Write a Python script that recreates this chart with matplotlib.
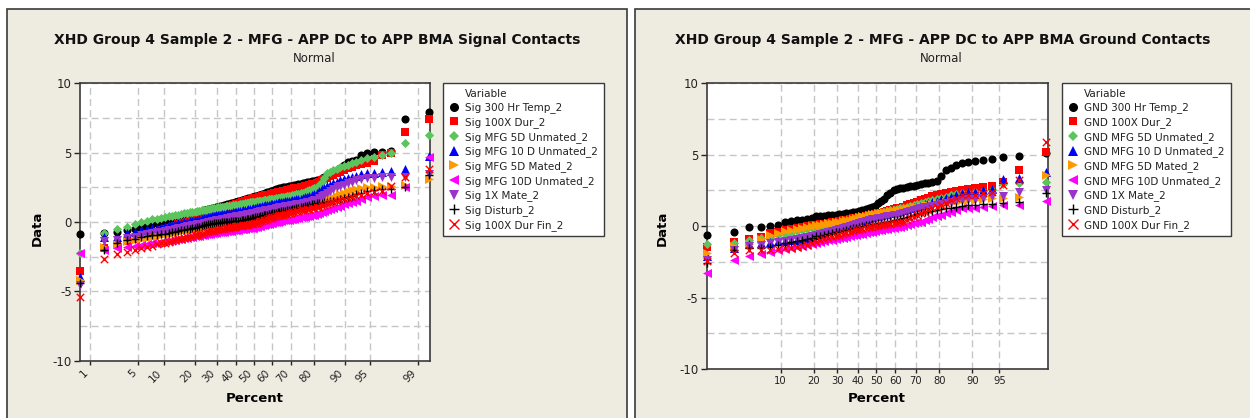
import numpy as np
import matplotlib
matplotlib.use("Agg")
import matplotlib.pyplot as plt
from matplotlib.lines import Line2D
from matplotlib.patches import Rectangle
from statistics import NormalDist

plt.rcParams['font.family'] = ['DejaVu Sans']
plt.rcParams['axes.unicode_minus'] = False

# ---- data, sorted values ----
sig_title = "XHD Group 4 Sample 2 - MFG - APP DC to APP BMA Signal Contacts"
gnd_title = "XHD Group 4 Sample 2 - MFG - APP DC to APP BMA Ground Contacts"

sig_labels = ["Sig 300 Hr Temp_2", "Sig 100X Dur_2", "Sig MFG 5D Unmated_2",
              "Sig MFG 10 D Unmated_2", "Sig MFG 5D Mated_2", "Sig MFG 10D Unmated_2",
              "Sig 1X Mate_2", "Sig Disturb_2", "Sig 100X Dur Fin_2"]
gnd_labels = ["GND 300 Hr Temp_2", "GND 100X Dur_2", "GND MFG 5D Unmated_2",
              "GND MFG 10 D Unmated_2", "GND MFG 5D Mated_2", "GND MFG 10D Unmated_2",
              "GND 1X Mate_2", "GND Disturb_2", "GND 100X Dur Fin_2"]

sig_ticks = [1, 5, 10, 20, 30, 40, 50, 60, 70, 80, 90, 95, 99]
gnd_ticks = [10, 20, 30, 40, 50, 60, 70, 80, 90, 95]

# signal contacts (104 readings each)
sig_300hr = [-0.9, -0.77, -0.7, -0.6, -0.5, -0.4,
             -0.28, -0.15, -0.07, 0.0,
             0.07, 0.13, 0.2,
             0.27, 0.33, 0.4,
             0.45, 0.5, 0.55, 0.6,
             0.65, 0.7, 0.75, 0.8, 0.85, 0.9,
             0.93, 0.97, 1.0, 1.03, 1.07, 1.1,
             1.14, 1.18, 1.22, 1.25, 1.29, 1.33, 1.37, 1.4,
             1.43, 1.47, 1.5, 1.54, 1.57, 1.61, 1.64, 1.67, 1.7, 1.74, 1.77, 1.8,
             1.84, 1.88, 1.93, 1.97, 2.01, 2.05, 2.1, 2.14, 2.18, 2.22, 2.27, 2.31, 2.35,
             2.38, 2.42, 2.45, 2.49, 2.52, 2.55, 2.58, 2.6,
             2.63, 2.67, 2.7, 2.73, 2.77, 2.8,
             2.83, 2.87, 2.9, 2.93, 2.97, 3.0,
             3.05, 3.15, 3.25, 3.3,
             3.4, 3.55, 3.7,
             3.9, 4.1, 4.3,
             4.4, 4.5, 4.8, 5.0, 5.05, 5.07, 5.1, 7.4, 7.9]
sig_100x = [-3.5, -1.9, -1.6, -1.35, -1.2, -1.05,
            -0.92, -0.8, -0.7, -0.6,
            -0.52, -0.43, -0.35,
            -0.27, -0.18, -0.1,
            -0.04, 0.03, 0.09, 0.15,
            0.21, 0.27, 0.33, 0.38, 0.44, 0.5,
            0.56, 0.62, 0.68, 0.73, 0.79, 0.85,
            0.89, 0.94, 0.98, 1.02, 1.07, 1.11, 1.16, 1.2,
            1.24, 1.28, 1.33, 1.37, 1.41, 1.45, 1.49, 1.53, 1.58, 1.62, 1.66, 1.7,
            1.73, 1.76, 1.79, 1.82, 1.85, 1.88, 1.92, 1.95, 1.98, 2.01, 2.04, 2.07, 2.1,
            2.13, 2.16, 2.19, 2.22, 2.25, 2.28, 2.32, 2.35,
            2.38, 2.42, 2.45, 2.48, 2.52, 2.55,
            2.59, 2.63, 2.67, 2.72, 2.76, 2.8,
            2.9, 3.0, 3.1, 3.2,
            3.3, 3.4, 3.5,
            3.63, 3.77, 3.9,
            4.0, 4.1, 4.18, 4.25, 4.4, 4.8, 5.0, 6.47, 7.4]
sig_5d_unmated = [-2.2, -0.8, -0.53, -0.34, -0.14, -0.02,
                  0.1, 0.2, 0.25, 0.3,
                  0.35, 0.4, 0.45,
                  0.49, 0.54, 0.58,
                  0.62, 0.65, 0.69, 0.72,
                  0.75, 0.78, 0.81, 0.84, 0.87, 0.9,
                  0.93, 0.95, 0.98, 1.0, 1.03, 1.05,
                  1.07, 1.09, 1.11, 1.13, 1.15, 1.17, 1.18, 1.2,
                  1.22, 1.24, 1.26, 1.28, 1.3, 1.32, 1.34, 1.36, 1.39, 1.41, 1.43, 1.45,
                  1.47, 1.49, 1.51, 1.53, 1.55, 1.57, 1.59, 1.61, 1.63, 1.65, 1.67, 1.68, 1.7,
                  1.73, 1.75, 1.78, 1.8, 1.83, 1.85, 1.88, 1.9,
                  1.93, 1.97, 2.0, 2.03, 2.07, 2.1,
                  2.17, 2.23, 2.3, 2.37, 2.43, 2.5,
                  2.65, 2.85, 3.2, 3.5,
                  3.62, 3.74, 3.85,
                  3.93, 4.02, 4.1,
                  4.22, 4.35, 4.48, 4.6, 4.7, 4.83, 4.95, 5.7, 6.3]
sig_10d_unmated = [-4.0, -1.08, -1.05, -0.8, -0.7, -0.6,
                   -0.52, -0.45, -0.4, -0.35,
                   -0.3, -0.25, -0.2,
                   -0.15, -0.1, -0.05,
                   -0.01, 0.03, 0.06, 0.1,
                   0.13, 0.17, 0.2, 0.23, 0.27, 0.3,
                   0.33, 0.37, 0.4, 0.43, 0.47, 0.5,
                   0.53, 0.55, 0.58, 0.6, 0.63, 0.65, 0.68, 0.7,
                   0.72, 0.75, 0.77, 0.8, 0.82, 0.85, 0.87, 0.9, 0.92, 0.95, 0.97, 1.0,
                   1.03, 1.06, 1.08, 1.11, 1.14, 1.16, 1.19, 1.22, 1.25, 1.27, 1.3, 1.33, 1.35,
                   1.38, 1.41, 1.43, 1.46, 1.49, 1.51, 1.53, 1.55,
                   1.58, 1.6, 1.63, 1.65, 1.68, 1.7,
                   1.77, 1.83, 1.9, 1.97, 2.03, 2.1,
                   2.22, 2.35, 2.47, 2.6,
                   2.7, 2.8, 2.9,
                   3.0, 3.1, 3.2,
                   3.28, 3.35, 3.43, 3.5, 3.55, 3.6, 3.7, 3.8, 4.75]
sig_5d_mated = [-4.2, -1.78, -1.6, -1.4, -1.3, -1.2,
                -1.12, -1.05, -1.0, -0.95,
                -0.9, -0.85, -0.8,
                -0.75, -0.7, -0.65,
                -0.61, -0.57, -0.54, -0.5,
                -0.47, -0.43, -0.4, -0.37, -0.33, -0.3,
                -0.27, -0.23, -0.2, -0.17, -0.13, -0.1,
                -0.08, -0.06, -0.04, -0.02, 0.0, 0.02, 0.04, 0.05,
                0.07, 0.09, 0.11, 0.13, 0.15, 0.17, 0.2, 0.22, 0.24, 0.26, 0.28, 0.3,
                0.33, 0.36, 0.39, 0.41, 0.44, 0.47, 0.49, 0.52, 0.55, 0.57, 0.6, 0.62, 0.65,
                0.69, 0.72, 0.76, 0.79, 0.83, 0.86, 0.88, 0.9,
                0.93, 0.97, 1.0, 1.03, 1.07, 1.1,
                1.14, 1.18, 1.22, 1.27, 1.31, 1.35,
                1.41, 1.48, 1.54, 1.6,
                1.7, 1.8, 1.9,
                2.0, 2.1, 2.2,
                2.28, 2.35, 2.43, 2.5, 2.55, 2.6, 2.62, 2.65, 3.1]
sig_10d_unmated_b = [-2.2, -2.0, -1.85, -1.78, -1.7, -1.65,
                     -1.6, -1.55, -1.5, -1.45,
                     -1.4, -1.35, -1.3,
                     -1.27, -1.23, -1.2,
                     -1.16, -1.12, -1.09, -1.05,
                     -1.02, -1.0, -0.98, -0.95, -0.93, -0.9,
                     -0.87, -0.85, -0.82, -0.8, -0.78, -0.75,
                     -0.73, -0.71, -0.69, -0.67, -0.65, -0.63, -0.62, -0.6,
                     -0.58, -0.56, -0.55, -0.53, -0.51, -0.49, -0.47, -0.45, -0.44, -0.42, -0.41, -0.4,
                     -0.37, -0.34, -0.31, -0.27, -0.24, -0.21, -0.18, -0.15, -0.12, -0.09, -0.06, -0.03, 0.0,
                     0.03, 0.06, 0.09, 0.11, 0.14, 0.16, 0.18, 0.2,
                     0.23, 0.25, 0.28, 0.3, 0.33, 0.35,
                     0.38, 0.42, 0.45, 0.48, 0.52, 0.55,
                     0.64, 0.72, 0.81, 0.9,
                     0.97, 1.03, 1.1,
                     1.18, 1.27, 1.35,
                     1.45, 1.55, 1.68, 1.8, 1.85, 1.95, 1.97, 2.5, 4.67]
sig_1x_mate = [-4.55, -1.4, -1.3, -1.15, -1.05, -0.95,
               -0.87, -0.8, -0.75, -0.7,
               -0.65, -0.6, -0.55,
               -0.5, -0.45, -0.4,
               -0.36, -0.32, -0.29, -0.25,
               -0.22, -0.18, -0.15, -0.12, -0.08, -0.05,
               -0.02, 0.02, 0.05, 0.08, 0.12, 0.15,
               0.18, 0.2, 0.23, 0.25, 0.28, 0.3, 0.33, 0.35,
               0.38, 0.4, 0.43, 0.45, 0.48, 0.5, 0.53, 0.55, 0.58, 0.6, 0.63, 0.65,
               0.68, 0.7, 0.73, 0.76, 0.79, 0.81, 0.84, 0.87, 0.89, 0.92, 0.95, 0.97, 1.0,
               1.03, 1.06, 1.08, 1.11, 1.14, 1.16, 1.18, 1.2,
               1.22, 1.25, 1.28, 1.3, 1.33, 1.35,
               1.39, 1.43, 1.47, 1.52, 1.56, 1.6,
               1.72, 1.85, 1.97, 2.1,
               2.23, 2.37, 2.5,
               2.6, 2.7, 2.8,
               2.9, 3.0, 3.08, 3.15, 3.2, 3.22, 3.25, 3.27, 3.46]
sig_disturb = [-4.4, -2.0, -1.5, -1.3, -1.2, -1.1,
               -1.02, -0.95, -0.92, -0.9,
               -0.85, -0.8, -0.75,
               -0.7, -0.65, -0.6,
               -0.56, -0.53, -0.49, -0.45,
               -0.41, -0.37, -0.33, -0.29, -0.25, -0.2,
               -0.15, -0.13, -0.11, -0.09, -0.07, -0.05,
               -0.04, -0.03, -0.01, 0.0, 0.01, 0.02, 0.04, 0.05,
               0.06, 0.08, 0.09, 0.1, 0.12, 0.14, 0.16, 0.19, 0.22, 0.25, 0.28, 0.3,
               0.33, 0.36, 0.39, 0.42, 0.45, 0.48, 0.5, 0.53, 0.56, 0.59, 0.62, 0.64, 0.67,
               0.7, 0.73, 0.76, 0.78, 0.81, 0.84, 0.86, 0.88,
               0.92, 0.96, 1.0, 1.03, 1.07, 1.1,
               1.14, 1.18, 1.22, 1.27, 1.31, 1.35,
               1.38, 1.4, 1.43, 1.45,
               1.5, 1.55, 1.6,
               1.67, 1.73, 1.8,
               1.9, 2.0, 2.1, 2.2, 2.3, 2.35, 2.4, 2.5, 3.4]
sig_100x_fin = [-5.4, -2.67, -2.3, -2.14, -2.0, -1.85,
                -1.78, -1.7, -1.62, -1.55,
                -1.48, -1.42, -1.35,
                -1.3, -1.25, -1.2,
                -1.15, -1.1, -1.05, -1.0,
                -0.96, -0.92, -0.88, -0.83, -0.79, -0.75,
                -0.72, -0.68, -0.65, -0.62, -0.58, -0.55,
                -0.52, -0.5, -0.47, -0.45, -0.42, -0.4, -0.37, -0.35,
                -0.33, -0.31, -0.3, -0.28, -0.26, -0.24, -0.22, -0.21, -0.19, -0.17, -0.16, -0.15,
                -0.1, -0.06, -0.01, 0.04, 0.08, 0.13, 0.17, 0.22, 0.26, 0.31, 0.35, 0.38, 0.4,
                0.43, 0.47, 0.5, 0.54, 0.57, 0.6, 0.63, 0.65,
                0.69, 0.73, 0.77, 0.8, 0.83, 0.85,
                0.88, 0.92, 0.95, 0.98, 1.02, 1.05,
                1.11, 1.17, 1.24, 1.3,
                1.37, 1.43, 1.5,
                1.57, 1.63, 1.7,
                1.78, 1.85, 1.98, 2.1, 2.15, 2.2, 2.6, 3.27, 3.8]

# ground contacts (60 readings each)
gnd_300hr = [-0.62, -0.38, -0.08, -0.03, 0.04, 0.08, 0.3, 0.35, 0.4, 0.45,
             0.5, 0.6, 0.68, 0.7, 0.72, 0.75, 0.78, 0.8, 0.82, 0.86,
             0.9, 0.93, 0.97, 1.0, 1.05, 1.1, 1.2, 1.28, 1.35, 1.42,
             1.6, 1.75, 1.9, 2.2, 2.35, 2.5, 2.6, 2.65, 2.7, 2.75,
             2.78, 2.82, 2.88, 2.95, 3.0, 3.03, 3.07, 3.15, 3.5, 3.9,
             4.1, 4.3, 4.45, 4.5, 4.55, 4.65, 4.72, 4.82, 4.9, 5.15]
gnd_100x = [-1.45, -1.08, -0.92, -0.76, -0.48, -0.4, -0.3, -0.2, -0.1, -0.03,
            0.02, 0.06, 0.1, 0.14, 0.18, 0.22, 0.26, 0.3, 0.35, 0.4,
            0.45, 0.49, 0.54, 0.58, 0.63, 0.67, 0.71, 0.76, 0.8, 0.85,
            0.9, 0.95, 1.0, 1.06, 1.12, 1.18, 1.24, 1.3, 1.37, 1.45,
            1.52, 1.6, 1.7, 1.8, 1.9, 2.0, 2.1, 2.17, 2.23, 2.3,
            2.38, 2.47, 2.55, 2.62, 2.7, 2.75, 2.8, 3.1, 3.94, 5.17]
gnd_5d_unmated = [-1.25, -1.15, -1.0, -0.83, -0.74, -0.65, -0.55, -0.45, -0.37, -0.3,
                  -0.22, -0.15, -0.08, -0.02, 0.04, 0.1, 0.15, 0.2, 0.25, 0.3,
                  0.35, 0.4, 0.45, 0.5, 0.55, 0.6, 0.66, 0.72, 0.78, 0.84,
                  0.9, 0.95, 1.0, 1.05, 1.1, 1.15, 1.2, 1.25, 1.3, 1.36,
                  1.42, 1.48, 1.54, 1.6, 1.68, 1.76, 1.84, 1.92, 2.0, 2.07,
                  2.15, 2.22, 2.3, 2.35, 2.4, 2.45, 2.55, 2.95, 3.02, 3.07]
gnd_10d_unmated = [-2.1, -1.5, -1.25, -1.15, -1.1, -1.05, -1.02, -1.0, -0.98, -0.95,
                   -0.85, -0.75, -0.65, -0.55, -0.45, -0.35, -0.25, -0.15, -0.05, 0.05,
                   0.12, 0.19, 0.26, 0.33, 0.4, 0.46, 0.53, 0.59, 0.65, 0.7,
                   0.74, 0.79, 0.83, 0.88, 0.92, 0.97, 1.01, 1.06, 1.1, 1.17,
                   1.24, 1.31, 1.38, 1.45, 1.53, 1.62, 1.7, 1.78, 1.87, 1.95,
                   2.07, 2.18, 2.3, 2.36, 2.42, 2.5, 2.58, 3.28, 3.35, 3.8]
gnd_5d_mated = [-1.9, -1.4, -1.25, -0.9, -0.62, -0.45, -0.35, -0.25, -0.17, -0.1,
                -0.05, 0.0, 0.05, 0.1, 0.15, 0.2, 0.24, 0.27, 0.3, 0.35,
                0.41, 0.46, 0.52, 0.57, 0.63, 0.68, 0.74, 0.79, 0.85, 0.88,
                0.92, 0.95, 0.99, 1.02, 1.06, 1.09, 1.13, 1.16, 1.2, 1.24,
                1.28, 1.32, 1.36, 1.4, 1.45, 1.5, 1.55, 1.6, 1.65, 1.7,
                1.73, 1.77, 1.8, 1.83, 1.85, 1.9, 1.95, 1.97, 2.07, 3.58]
gnd_10d_unmated_b = [-3.25, -2.37, -2.09, -1.95, -1.8, -1.7, -1.62, -1.55, -1.48, -1.42,
                     -1.35, -1.28, -1.21, -1.14, -1.07, -1.0, -0.95, -0.9, -0.85, -0.8,
                     -0.75, -0.7, -0.65, -0.6, -0.56, -0.52, -0.47, -0.43, -0.38, -0.34,
                     -0.3, -0.26, -0.22, -0.19, -0.15, -0.11, -0.07, -0.03, 0.0, 0.07,
                     0.14, 0.2, 0.26, 0.32, 0.42, 0.52, 0.61, 0.71, 0.8, 0.9,
                     1.02, 1.13, 1.25, 1.28, 1.3, 1.35, 1.4, 1.45, 1.5, 1.76]
gnd_1x_mate = [-2.37, -1.65, -1.4, -1.3, -1.2, -1.12, -1.05, -0.98, -0.91, -0.85,
               -0.78, -0.71, -0.64, -0.57, -0.5, -0.43, -0.36, -0.29, -0.22, -0.15,
               -0.08, -0.01, 0.06, 0.13, 0.2, 0.27, 0.34, 0.41, 0.48, 0.52,
               0.56, 0.6, 0.64, 0.68, 0.72, 0.76, 0.8, 0.85, 0.9, 0.97,
               1.04, 1.11, 1.18, 1.25, 1.31, 1.37, 1.43, 1.49, 1.55, 1.6,
               1.68, 1.75, 1.83, 1.87, 1.9, 1.95, 2.1, 2.12, 2.42, 2.53]
gnd_disturb = [-2.6, -1.67, -1.55, -1.5, -1.48, -1.3, -1.2, -1.1, -1.05, -1.0,
               -0.9, -0.8, -0.72, -0.66, -0.6, -0.55, -0.5, -0.44, -0.38, -0.32,
               -0.26, -0.2, -0.15, -0.1, -0.05, 0.0, 0.05, 0.1, 0.15, 0.18,
               0.21, 0.25, 0.28, 0.32, 0.36, 0.4, 0.44, 0.49, 0.55, 0.62,
               0.69, 0.76, 0.83, 0.9, 0.96, 1.02, 1.08, 1.14, 1.2, 1.25,
               1.3, 1.35, 1.4, 1.45, 1.5, 1.52, 1.55, 1.6, 1.72, 2.35]
gnd_100x_fin = [-2.45, -1.9, -1.7, -1.68, -1.66, -1.6, -1.55, -1.5, -1.45, -1.4,
                -1.3, -1.2, -1.1, -1.0, -0.92, -0.84, -0.76, -0.68, -0.6, -0.54,
                -0.48, -0.42, -0.36, -0.3, -0.25, -0.2, -0.14, -0.08, -0.03, 0.0,
                0.04, 0.07, 0.11, 0.14, 0.18, 0.21, 0.25, 0.28, 0.32, 0.44,
                0.55, 0.67, 0.78, 0.9, 1.02, 1.13, 1.25, 1.37, 1.48, 1.6,
                1.8, 2.0, 2.18, 2.19, 2.2, 2.3, 2.4, 2.88, 3.23, 5.9]

sig_series = [sig_300hr, sig_100x, sig_5d_unmated, sig_10d_unmated, sig_5d_mated,
              sig_10d_unmated_b, sig_1x_mate, sig_disturb, sig_100x_fin]
gnd_series = [gnd_300hr, gnd_100x, gnd_5d_unmated, gnd_10d_unmated, gnd_5d_mated,
              gnd_10d_unmated_b, gnd_1x_mate, gnd_disturb, gnd_100x_fin]

# minitab-ish symbol set
markers = ['o', 's', 'D', '^', '>', '<', 'v', '+', 'x']
colors = ['#000000', '#ff0000', '#5cc45c', '#0000ff', '#ff9900', '#ff00ff',
          '#9933cc', '#000000', '#ff0000']
sizes = [34, 26, 22, 42, 42, 42, 42, 40, 28]
leg_sizes = [6.5, 6, 5.5, 7, 7, 7, 7, 7.5, 6.5]

W, H = 1250, 418
BEIGE = '#eeebe1'
EDGE = '#3a3a3a'
nd = NormalDist()

fig = plt.figure(figsize=(W / 100, H / 100), dpi=100)
fig.patch.set_facecolor('white')

# panel backgrounds (bottom edge runs off the picture)
for x0, x1 in [(7, 627), (634.5, 1262)]:
    fig.add_artist(Rectangle((x0 / W, -0.1), (x1 - x0) / W, 1.1 - 9.5 / H,
                             transform=fig.transFigure, facecolor=BEIGE,
                             edgecolor=EDGE, lw=1.2, zorder=0))


def prob_plot(ax, series, tick_pct, rotate):
    zmin, zmax = 0, 0
    for vals, mk, col, sz in zip(series, markers, colors, sizes):
        v = np.sort(np.array(vals))
        n = len(v)
        z = np.array([nd.inv_cdf((i + 1 - 0.3) / (n + 0.4)) for i in range(n)])
        zmin, zmax = min(zmin, z[0]), max(zmax, z[-1])
        if mk in ('+', 'x'):
            ax.scatter(z, v, marker=mk, s=sz, c=col, linewidths=1.0, clip_on=False, zorder=3)
        else:
            ax.scatter(z, v, marker=mk, s=sz, c=col, linewidths=0, clip_on=False, zorder=3)
    ax.set_xlim(zmin, zmax + 0.02)
    ax.set_ylim(-10, 10)
    ax.set_xticks([nd.inv_cdf(p / 100) for p in tick_pct])
    if rotate:
        ax.set_xticklabels([str(p) for p in tick_pct], rotation=45, ha='right', va='top',
                           fontsize=7.5)
    else:
        ax.set_xticklabels([str(p) for p in tick_pct], fontsize=7.2)
    ax.set_yticks([-10, -5, 0, 5, 10])
    ax.set_yticks([-7.5, -2.5, 2.5, 7.5], minor=True)
    ax.tick_params(axis='y', which='major', length=4, width=1, pad=2, labelsize=8.5,
                   colors='#222222')
    ax.tick_params(axis='x', which='major', length=3, width=1, pad=2, colors='#222222')
    ax.tick_params(which='minor', length=0)
    ax.grid(True, which='both', axis='y', ls=(0, (5, 3)), color='#c6c6c6', lw=1)
    ax.grid(True, which='major', axis='x', ls=(0, (5, 3)), color='#c6c6c6', lw=1)
    ax.set_axisbelow(True)
    for sp in ax.spines.values():
        sp.set_color(EDGE)
        sp.set_linewidth(1.2)


ax1 = fig.add_axes([80 / W, 1 - 360.7 / H, 350 / W, (360.7 - 83.3) / H])
prob_plot(ax1, sig_series, sig_ticks, True)
ax2 = fig.add_axes([706.7 / W, 1 - 369 / H, 341 / W, (369 - 83.3) / H])
prob_plot(ax2, gnd_series, gnd_ticks, False)

# titles and axis names
fig.text(317 / W, 1 - 40 / H, sig_title, ha='center', va='center', fontsize=10,
         fontweight='bold', color='#111111')
fig.text(943 / W, 1 - 40 / H, gnd_title, ha='center', va='center', fontsize=10,
         fontweight='bold', color='#111111')
for cx in (314 / W, 941 / W):
    fig.text(cx, 1 - 59 / H, "Normal", ha='center', va='center', fontsize=8.5, color='#222222')
fig.text(37 / W, 1 - 228 / H, "Data", rotation=90, ha='center', va='center',
         fontsize=9.5, fontweight='bold')
fig.text(662 / W, 1 - 228 / H, "Data", rotation=90, ha='center', va='center',
         fontsize=9.5, fontweight='bold')
fig.text(255 / W, 1 - 398 / H, "Percent", ha='center', va='center', fontsize=9.5,
         fontweight='bold')
fig.text(877 / W, 1 - 398 / H, "Percent", ha='center', va='center', fontsize=9.5,
         fontweight='bold')

# legends - "Variable" is a blank entry so it lines up with the names
for labels, lx in [(sig_labels, 443), (gnd_labels, 1062)]:
    handles = [Line2D([], [], ls='none')]
    for mk, col, ms in zip(markers, colors, leg_sizes):
        if mk in ('+', 'x'):
            handles.append(Line2D([], [], ls='none', marker=mk, color=col, ms=ms, mew=1.0))
        else:
            handles.append(Line2D([], [], ls='none', marker=mk, color=col, ms=ms, mew=0))
    leg = fig.legend(handles, ["Variable"] + labels, loc='upper left',
                     bbox_to_anchor=(lx / W, 1 - 83 / H), bbox_transform=fig.transFigure,
                     fontsize=7.5, frameon=True, fancybox=False, framealpha=1,
                     edgecolor=EDGE, borderpad=0.55, labelspacing=0.36, handlelength=1.0,
                     handletextpad=0.6, borderaxespad=0)
    leg.get_frame().set_linewidth(1.0)
    for t in leg.get_texts():
        t.set_color('#222222')

fig.savefig("out.png", dpi=100)
